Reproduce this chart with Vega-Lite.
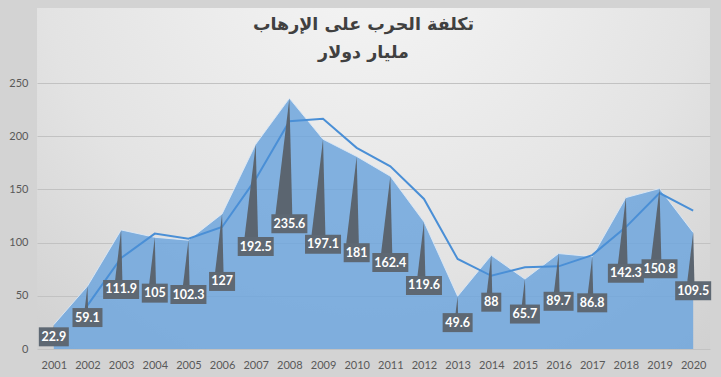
{
  "$schema": "https://vega.github.io/schema/vega-lite/v6.json",
  "width": 673,
  "height": 341,
  "autosize": {"type": "none"},
  "padding": {"left": 37, "top": 8, "right": 11, "bottom": 28},
  "background": "#d3d3d3",
  "title": {
    "text": ["تكلفة الحرب  على الإرهاب", "مليار دولار"],
    "font": "DejaVu Sans",
    "fontSize": 17.5,
    "fontWeight": "bold",
    "color": "#404040",
    "anchor": "middle",
    "baseline": "top",
    "lineHeight": 28,
    "offset": -53,
    "dx": -10
  },
  "data": {
    "values": [
      {"year": "2001", "value": 22.9},
      {"year": "2002", "value": 59.1, "ma": 41.0},
      {"year": "2003", "value": 111.9, "ma": 85.5},
      {"year": "2004", "value": 105, "ma": 108.45},
      {"year": "2005", "value": 102.3, "ma": 103.65},
      {"year": "2006", "value": 127, "ma": 114.65},
      {"year": "2007", "value": 192.5, "ma": 159.75},
      {"year": "2008", "value": 235.6, "ma": 214.05},
      {"year": "2009", "value": 197.1, "ma": 216.35},
      {"year": "2010", "value": 181, "ma": 189.05},
      {"year": "2011", "value": 162.4, "ma": 171.7},
      {"year": "2012", "value": 119.6, "ma": 141.0},
      {"year": "2013", "value": 49.6, "ma": 84.6},
      {"year": "2014", "value": 88, "ma": 68.8},
      {"year": "2015", "value": 65.7, "ma": 76.85},
      {"year": "2016", "value": 89.7, "ma": 77.7},
      {"year": "2017", "value": 86.8, "ma": 88.25},
      {"year": "2018", "value": 142.3, "ma": 114.55},
      {"year": "2019", "value": 150.8, "ma": 146.55},
      {"year": "2020", "value": 109.5, "ma": 130.15}
    ]
  },
  "encoding": {
    "x": {
      "field": "year",
      "type": "ordinal",
      "scale": {"type": "point", "padding": 0.5},
      "axis": {
        "title": null,
        "labelAngle": 0,
        "domain": false,
        "ticks": false,
        "grid": false,
        "labelPadding": 10,
        "labelFont": "Lato",
        "labelFontSize": 11,
        "labelColor": "#595959"
      }
    }
  },
  "layer": [
    {
      "layer": [
        {
          "mark": {
            "type": "area",
            "color": "#6ea6dd",
            "opacity": 0.85,
            "line": {"color": "#dbe8f5", "strokeWidth": 1, "opacity": 0.9}
          },
          "encoding": {
            "y": {
              "field": "value",
              "type": "quantitative",
              "scale": {"domain": [0, 320.5], "nice": false, "zero": true},
              "axis": {
                "title": null,
                "values": [0, 50, 100, 150, 200, 250],
                "domain": false,
                "ticks": false,
                "labelPadding": 9,
                "labelFont": "Lato",
                "labelFontSize": 11,
                "labelColor": "#595959",
                "grid": true,
                "gridColor": "#c2c2c2",
                "gridWidth": 1
              }
            }
          }
        },
        {
          "mark": {"type": "line", "color": "#4a8fd6", "strokeWidth": 2},
          "encoding": {
            "y": {
              "field": "ma",
              "type": "quantitative",
              "axis": {
                "title": null,
                "values": [0, 50, 100, 150, 200, 250],
                "domain": false,
                "ticks": false,
                "labelPadding": 9,
                "labelFont": "Lato",
                "labelFontSize": 11,
                "labelColor": "#595959",
                "grid": true,
                "gridColor": "#c2c2c2",
                "gridWidth": 1
              }
            }
          }
        },
        {
          "mark": {"type": "rule", "color": "#404040", "strokeWidth": 2.5},
          "encoding": {"y": {"datum": 0, "type": "quantitative"}}
        }
      ]
    },
    {
      "mark": {
        "type": "point",
        "filled": true,
        "opacity": 1,
        "color": "#5b6570",
        "shape": "M -0.24 1 L 0.05 1 L 0 -1 Z"
      },
      "encoding": {
        "y": {
          "field": "value",
          "type": "quantitative",
          "scale": {"domain": [0, 427.33], "nice": false, "zero": true},
          "axis": null
        },
        "size": {
          "field": "value",
          "type": "quantitative",
          "scale": {"type": "pow", "exponent": 2, "domain": [0, 250], "range": [0, 17689]},
          "legend": null
        }
      }
    },
    {
      "mark": {"type": "point", "filled": true, "opacity": 1, "color": "#5e6873", "size": 1600},
      "encoding": {
        "y": {
          "field": "value",
          "type": "quantitative",
          "scale": {"domain": [0, 641], "nice": false, "zero": true},
          "axis": null
        },
        "shape": {
          "condition": [
            {"test": "length(toString(datum.value)) <= 2", "value": "M -0.5 -0.475 L 0.5 -0.475 L 0.5 0.475 L -0.5 0.475 Z"},
            {"test": "length(toString(datum.value)) == 3", "value": "M -0.65 -0.475 L 0.65 -0.475 L 0.65 0.475 L -0.65 0.475 Z"},
            {"test": "length(toString(datum.value)) == 4", "value": "M -0.75 -0.475 L 0.75 -0.475 L 0.75 0.475 L -0.75 0.475 Z"}
          ],
          "value": "M -0.9 -0.475 L 0.9 -0.475 L 0.9 0.475 L -0.9 0.475 Z"
        }
      }
    },
    {
      "mark": {"type": "text", "color": "#ffffff", "font": "Lato", "fontWeight": "bold", "fontSize": 12.5, "baseline": "middle", "align": "center"},
      "encoding": {
        "y": {
          "field": "value",
          "type": "quantitative",
          "scale": {"domain": [0, 641], "nice": false, "zero": true},
          "axis": null
        },
        "text": {"field": "value", "type": "nominal"}
      }
    }
  ],
  "resolve": {"scale": {"y": "independent", "size": "independent", "shape": "independent"}},
  "config": {
    "view": {
      "stroke": null,
      "fill": {
        "gradient": "radial",
        "x1": 0.5, "y1": 0.15, "r1": 0,
        "x2": 0.5, "y2": 0.15, "r2": 0.9,
        "stops": [
          {"offset": 0, "color": "#f6f6f6"},
          {"offset": 0.55, "color": "#e3e3e3"},
          {"offset": 1, "color": "#c9c9c9"}
        ]
      }
    }
  }
}
